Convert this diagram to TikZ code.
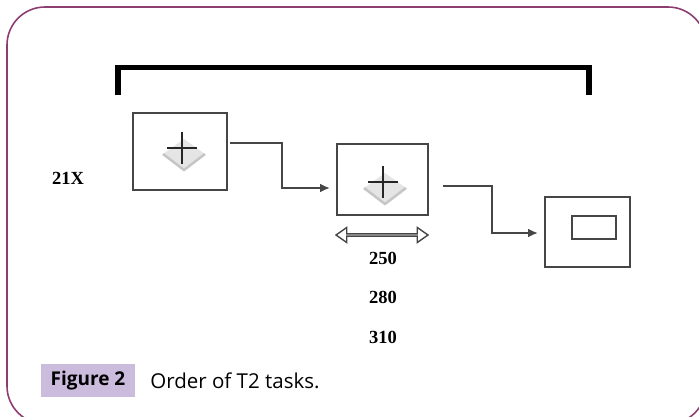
\documentclass[tikz,border=0pt]{standalone}
\usepackage{fontspec}
\usetikzlibrary{arrows.meta,positioning,shapes.arrows}
\newfontfamily\numfont{Liberation Serif}
\newfontfamily\capfont{Open Sans}
\definecolor{framecol}{RGB}{140,62,112}
\definecolor{tagfill}{RGB}{203,188,222}
\definecolor{linegray}{RGB}{70,70,70}
\tikzset{
  screen/.style={draw=linegray, line width=2pt, inner sep=0pt},
  flow/.style={draw=linegray, line width=2pt, -{Latex[length=10pt,width=9pt]}},
  sizetext/.style={font=\numfont\bfseries\fontsize{18.5}{18.5}\selectfont, inner sep=0pt},
  cue/.pic={
    \fill[gray!20] (-19,6) -- (2,-9) -- (23,6) -- (2,22) -- cycle;
    \draw[gray!45, line width=2.5pt, line join=round] (-19,6) -- (2,22) -- (23,6);
    \draw[black!85, line width=2.6pt] (-15,0) -- (15,0) (0,-16) -- (0,16);
  }
}

\begin{document}
\begin{tikzpicture}[x=1pt,y=-1pt]
		%%%%% START %%%%%
		\useasboundingbox (0,0) rectangle (699,416);
		\draw[framecol, line width=1.6pt, rounded corners=38pt] (7,7) rectangle (706,424);
		
		% bracket
		\draw[line width=5.5pt] (118,95) -- (118,67.5) -- (589,67.5) -- (589,95);
		
		% screens
		\node[screen, minimum width=94pt, minimum height=77pt] (firstscreen) at (180,151.5) {};
		\pic at (182,148) {cue};
		\node[screen, minimum width=91pt, minimum height=71pt] (secondscreen) at (382.5,179.5) {};
		\pic at (383,182) {cue};
		\node[screen, minimum width=85pt, minimum height=70pt] (lastscreen) at (587.5,232) {};
		\node[screen, minimum width=44pt, minimum height=23pt] (probe) at (594,227.5) {};
		
		% connectors
		\coordinate (bendA) at (282,0);
		\coordinate (bendB) at (492,0);
		\draw[flow] ([xshift=2pt,yshift=8.5pt]firstscreen.east) -| (bendA |- 0,188) -- ([xshift=-6pt,yshift=-8.5pt]secondscreen.west);
		\draw[flow] ([xshift=14pt,yshift=-6.5pt]secondscreen.east) -| (bendB |- 0,233) -- ([xshift=-6pt,yshift=-1pt]lastscreen.west);
		
		% distance arrow
		\node[double arrow, draw=linegray, line width=1.4pt, fill=white, inner sep=0pt,
		  minimum width=15pt, minimum height=92pt, double arrow head extend=4pt,
		  double arrow tip angle=70] (span) at (382,235) {};
		
		% labels
		\node[sizetext] (size) at (68,178.5) {21X};
		\node[sizetext] (dfirst) at (383,258) {250};
		\node[sizetext] (dsecond) at (383,297) {280};
		\node[sizetext] (dthird) at (383,337) {310};
		
		% caption
		\node[fill=tagfill, minimum width=94pt, minimum height=33pt, inner sep=0pt,
		  font=\capfont\bfseries\fontsize{19}{19}\selectfont] (figtag) at (88,380.5) {Figure 2};
		\node[right=15pt of figtag, inner sep=0pt,
		  font=\capfont\fontsize{20.5}{20.5}\selectfont] (figtext) {Order of T2 tasks.};
		%%%%% END %%%%%
\end{tikzpicture}
\end{document}
